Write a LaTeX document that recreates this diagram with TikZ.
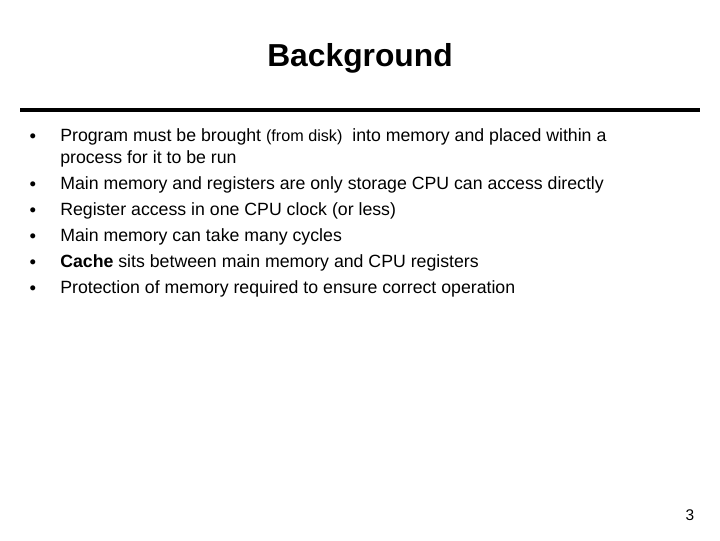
\documentclass[tikz,border=0pt]{standalone}
\usepackage{fontspec}
\setmainfont{Liberation Sans}
\begin{document}
\begin{tikzpicture}[x=0.025cm,y=-0.025cm]
  \tikzset{bul/.style={anchor=center,font=\fontsize{9}{11}\selectfont},
    txt/.style={anchor=west,inner sep=0pt,font=\fontsize{12.6}{15}\selectfont}}
  \useasboundingbox (0,0) rectangle (720,540);
  % title and rule
  \node[font=\fontsize{22.6}{26}\selectfont\bfseries] (title) at (360,58) {Background};
  \draw[line width=2.5pt] (20,110) -- (700,110);
  % bullets
  \foreach \y/\t [count=\i] in {137/{Program must be brought {\fontsize{11.5}{13}\selectfont(from disk)}\ \ into memory and placed within a},
      185/{Main memory and registers are only storage CPU can access directly},
      211/{Register access in one CPU clock (or less)},
      237/{Main memory can take many cycles},
      263/{\textbf{Cache} sits between main memory and CPU registers},
      289/{Protection of memory required to ensure correct operation}} {
    \node[bul] (b\i) at (33,\y) {$\bullet$};
    \node[txt] (t\i) at (60,\y) {\t};
  }
  \node[txt] (cont) at (60,159) {process for it to be run};
  \node[font=\fontsize{11}{13}\selectfont] (page) at (690,515) {3};
\end{tikzpicture}
\end{document}
